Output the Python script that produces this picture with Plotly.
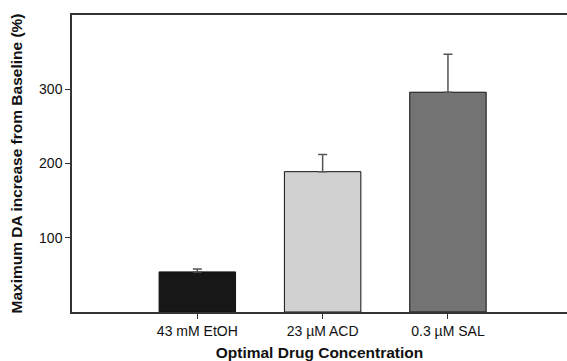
import plotly.graph_objects as go

categories = ["43 mM EtOH", "23 \u00b5M ACD", "0.3 \u00b5M SAL"]
values = [54, 189, 296]
errors = [4, 23, 51]
colors = ["#171717", "#d0d1d0", "#737373"]
y_ticks = [100, 200, 300]

fig = go.Figure()
fig.add_trace(go.Bar(
    x=list(range(len(categories))),
    y=values,
    width=0.61,
    marker=dict(color=colors, line=dict(color="#111111", width=1)),
    error_y=dict(type="data", array=errors, arrayminus=[0] * len(errors),
                 symmetric=False, color="#555555", thickness=1.5, width=4.5),
))

fig.update_layout(
    width=567, height=361,
    margin=dict(l=72, r=0, t=15, b=49),
    paper_bgcolor="white", plot_bgcolor="white",
    showlegend=False,
    font=dict(family="Liberation Sans, Arial, sans-serif", color="#111111"),
)
fig.update_xaxes(
    range=[-1.0, 2.95],
    tickvals=list(range(len(categories))), ticktext=categories,
    ticks="outside", ticklen=5, tickcolor="#333333", tickwidth=1,
    showline=True, linecolor="#333333", linewidth=1.5, mirror=True,
    showgrid=False, zeroline=False,
    tickfont=dict(size=14),
    title=dict(text="<b>Optimal Drug Concentration</b>", font=dict(size=15.5), standoff=11),
)
fig.update_yaxes(
    range=[0, 400],
    tickvals=y_ticks,
    ticks="outside", ticklen=5, tickcolor="#333333", tickwidth=1,
    showline=True, linecolor="#333333", linewidth=1.5,
    showgrid=False, zeroline=False,
    tickfont=dict(size=14),
    title=dict(text="<b>Maximum DA increase from Baseline (%)</b>", font=dict(size=15.5), standoff=13),
)

fig.write_html("out.html")
